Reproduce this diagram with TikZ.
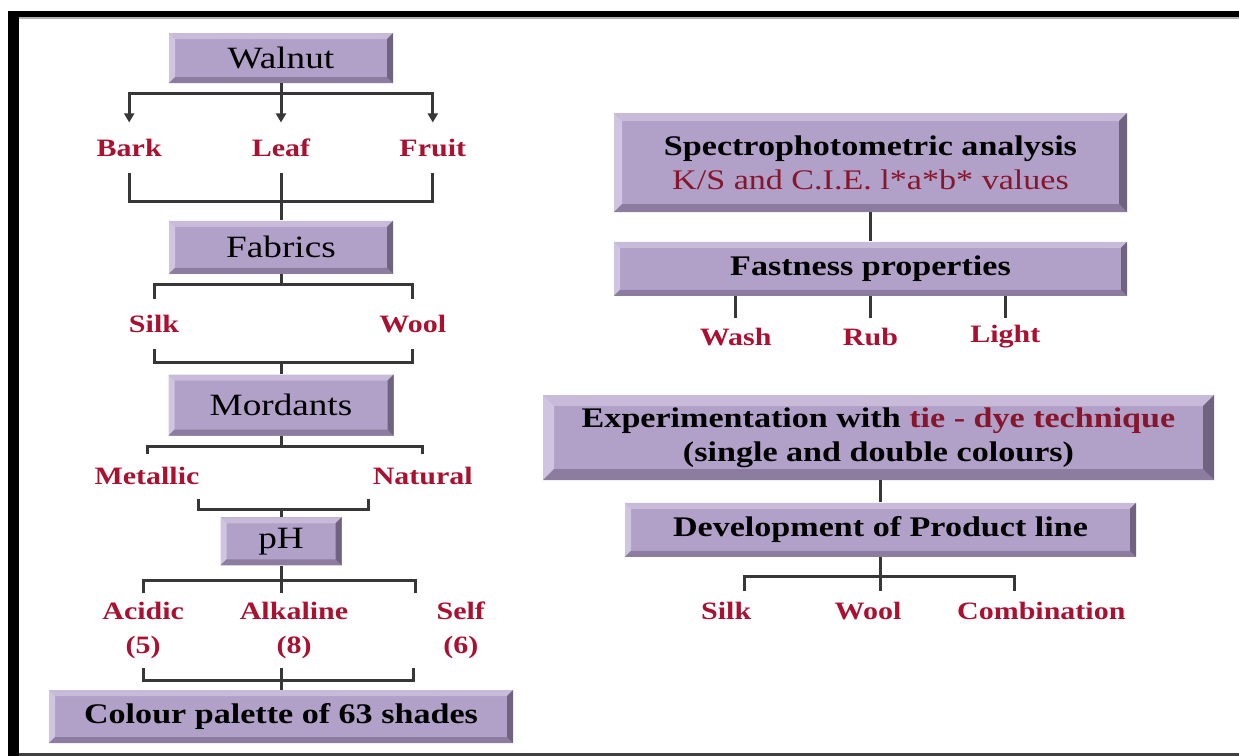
\documentclass[tikz,border=0pt]{standalone}
\usepackage{fontspec}
\setmainfont[FakeStretch=1.2]{Liberation Serif}
\usetikzlibrary{positioning}
\usetikzlibrary{arrows.meta}

\definecolor{BoxFill}{RGB}{177,160,199}
\definecolor{BevelTop}{RGB}{199,187,217}
\definecolor{BevelLeft}{RGB}{207,197,224}
\definecolor{BevelBottom}{RGB}{140,125,160}
\definecolor{BevelRight}{RGB}{112,99,128}
\definecolor{LabelRed}{RGB}{170,16,48}
\definecolor{NoteRed}{RGB}{135,22,45}
\definecolor{LineGray}{RGB}{55,55,55}

\begin{document}
\begin{tikzpicture}[x=0.5pt, y=-0.5pt, >={Triangle[length=4.5pt,width=5pt]},
bevelnode/.style={rectangle, fill=BoxFill, inner sep=0pt, path picture={
  \coordinate (nw) at (path picture bounding box.north west);
  \coordinate (ne) at (path picture bounding box.north east);
  \coordinate (sw) at (path picture bounding box.south west);
  \coordinate (se) at (path picture bounding box.south east);
  \fill[BevelTop] (nw) -- (ne) -- ([shift={(-#1,-#1)}]ne) -- ([shift={(#1,-#1)}]nw) -- cycle;
  \fill[BevelLeft] (nw) -- (sw) -- ([shift={(#1,#1)}]sw) -- ([shift={(#1,-#1)}]nw) -- cycle;
  \fill[BevelBottom] (sw) -- (se) -- ([shift={(-#1,#1)}]se) -- ([shift={(#1,#1)}]sw) -- cycle;
  \fill[BevelRight] (ne) -- (se) -- ([shift={(-#1,#1)}]se) -- ([shift={(-#1,-#1)}]ne) -- cycle;
}},
bevelnode/.default=3pt,
titlenode/.style={bevelnode=3pt, font=\fontsize{15.5}{18}\selectfont},
stepnode/.style={bevelnode=#1, align=center, font=\bfseries\fontsize{14.2}{17}\selectfont},
stepnode/.default=3pt,
labelnode/.style={rectangle, inner sep=0pt, align=center, text=LabelRed, font=\bfseries\fontsize{12.5}{17}\selectfont},
link/.style={draw=LineGray, line width=1.5pt},
]
\useasboundingbox (0,0) rectangle (1239,756);
%Frame
\fill[black] (8,11) rectangle (1239,17);
\fill[black] (8,11) rectangle (19,756);
\fill[gray!60] (19,17) rectangle (1239,18.5);
\fill[black!75] (19,753) rectangle (1239,756);

%Nodes, left column
\node[titlenode, minimum width=112pt, minimum height=25pt]      (Walnut)   at (281,58)                 {Walnut};
\node[labelnode, minimum width=71.5pt, minimum height=25pt]     (Leaf)     [below=19.5pt of Walnut]    {Leaf};
\node[labelnode, minimum width=71.5pt, minimum height=25pt]     (Bark)     [left=4pt of Leaf]          {Bark};
\node[labelnode, minimum width=71.5pt, minimum height=25pt]     (Fruit)    [right=4pt of Leaf]         {Fruit};
\node[titlenode, minimum width=112pt, minimum height=26.5pt]    (Fabrics)  [below=68.5pt of Walnut]    {Fabrics};
\node[labelnode, minimum width=68pt, minimum height=24.5pt]     (Silk)     [below=12.5pt of Fabrics, xshift=-63.5pt] {Silk};
\node[labelnode, minimum width=68pt, minimum height=24.5pt]     (Wool)     [right=61pt of Silk]        {Wool};
\node[titlenode, minimum width=112.5pt, minimum height=30.5pt]  (Mordants) [below=50pt of Fabrics]     {Mordants};
\node[labelnode, minimum width=91.5pt, minimum height=22pt]     (Metallic) [below=9pt of Mordants, xshift=-67pt] {Metallic};
\node[labelnode, minimum width=91.5pt, minimum height=22pt]     (Natural)  [right=46pt of Metallic]    {Natural};
\node[titlenode, minimum width=60.5pt, minimum height=24pt]     (pH)       [below=40.5pt of Mordants]  {pH};
\node[labelnode, minimum width=76pt, minimum height=37pt]       (Alkaline) [below=13.5pt of pH, xshift=6.5pt] {Alkaline\\(8)};
\node[labelnode, minimum width=59pt, minimum height=37pt]       (Acidic)   [left=7.5pt of Alkaline]    {Acidic\\(5)};
\node[labelnode, minimum width=55pt, minimum height=37pt]       (Self)     [right=17.5pt of Alkaline]  {Self\\(6)};
\node[stepnode, minimum width=232pt, minimum height=26.5pt]     (Palette)  [below=62pt of pH]          {Colour palette of 63 shades};

%Nodes, right column
\node[stepnode=4pt, minimum width=256.5pt, minimum height=49.5pt] (Spectro) at (870.5,162.5)
  {Spectrophotometric analysis\\{\mdseries\color{NoteRed}K/S and C.I.E. l*a*b* values}};
\node[stepnode, minimum width=256.5pt, minimum height=27pt]     (Fastness) [below=14.5pt of Spectro]   {Fastness properties};
\node[labelnode, minimum width=61pt, minimum height=18pt]       (Rub)      [below=11pt of Fastness]    {Rub};
\node[labelnode, minimum width=61pt, minimum height=18pt]       (Wash)     [left=6pt of Rub]           {Wash};
\node[labelnode, minimum width=61pt, minimum height=18pt]       (Light)    [right=6pt of Rub]          {Light};
\node[stepnode=5.5pt, minimum width=335.5pt, minimum height=42.5pt] (TieDye) at (878.5,437.5)
  {Experimentation with \textcolor{NoteRed}{tie - dye technique}\\(single and double colours)};
\node[stepnode, minimum width=255.5pt, minimum height=27pt]     (Product)  [below=11pt of TieDye, xshift=1pt] {Development of Product line};
\node[labelnode, minimum width=60pt, minimum height=19pt]       (ProdWool) [below=17pt of Product, xshift=-6.25pt] {Wool};
\node[labelnode, minimum width=60pt, minimum height=19pt]       (ProdSilk) [left=10.5pt of ProdWool]   {Silk};
\node[labelnode, minimum width=101.5pt, minimum height=19pt]    (Combination) [right=5.5pt of ProdWool] {Combination};

%Lines, left column
\draw[link] (Walnut.south) -- ++(0,-5pt) coordinate (WalnutBus);
\draw[link, ->] (WalnutBus) -- (WalnutBus |- Leaf.north);
\draw[link, ->] (WalnutBus) -| (Bark.north);
\draw[link, ->] (WalnutBus) -| (Fruit.north);
\draw[link] (Bark.south) -- ++(0,-14pt) -| (Fruit.south);
\draw[link] (Fabrics.north |- Leaf.south) -- (Fabrics.north);
\draw[link] (Fabrics.south) -- ++(0,-5pt);
\draw[link] (Silk.north) -- ++(0,7.5pt) -| (Wool.north);
\draw[link] (Silk.south) -- ++(0,-6.5pt) -| (Wool.south);
\draw[link] (Mordants.north) -- ++(0,6.5pt);
\draw[link] (Mordants.south) -- ++(0,-5pt);
\draw[link] (Metallic.north) -- ++(0,4pt) -| (Natural.north);
\draw[link] ([xshift=25.5pt]Metallic.south) -- ++(0,-5.5pt) -| ([xshift=-27pt]Natural.south);
\draw[link] (pH.north) -- ++(0,4pt);
\draw[link] (pH.south) -- (pH.south |- Alkaline.north);
\draw[link] (Acidic.north) -- ++(0,6pt) -| ([xshift=-22.5pt]Self.north);
\draw[link] (Acidic.south) -- ++(0,-6.5pt) -| ([xshift=-23.5pt]Self.south);
\draw[link] (Palette.north |- Alkaline.south) -- (Palette.north);

%Lines, right column
\draw[link] (Spectro.south) -- (Fastness.north);
\draw[link] (Wash.north |- Fastness.south) -- (Wash.north);
\draw[link] (Rub.north |- Fastness.south) -- (Rub.north);
\draw[link] (Light.north |- Fastness.south) -- (Light.north);
\draw[link] (Product.north |- TieDye.south) -- (Product.north);
\draw[link] (Product.south) -- (Product.south |- ProdWool.north);
\draw[link] ([xshift=9pt]ProdSilk.north) -- ++(0,7.5pt) -| ([xshift=-13.25pt]Combination.north);

\end{tikzpicture}
\end{document}
